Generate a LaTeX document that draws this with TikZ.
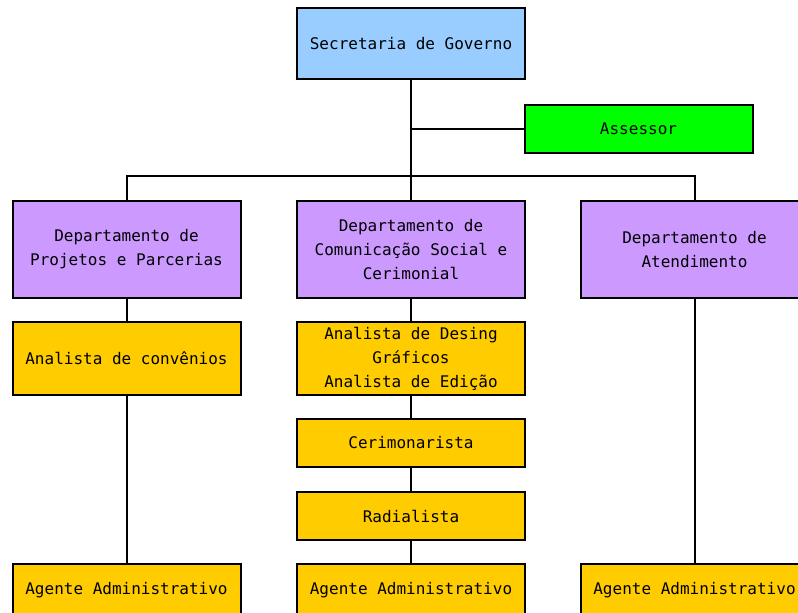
\documentclass[tikz,border=0pt]{standalone}
\usepackage{fontspec}
\newfontfamily\orgfont{DejaVu Sans Mono}
\definecolor{secblue}{RGB}{153,204,255}
\definecolor{asrgreen}{RGB}{0,255,0}
\definecolor{deppurple}{RGB}{204,153,255}
\definecolor{staffgold}{RGB}{255,204,0}

\tikzset{every picture/.style={line width=1.5pt}}
\tikzset{
  orgbox/.style={draw, line width=1.5pt, minimum width=171pt, inner sep=0pt,
    align=center, font=\orgfont\fontsize{12}{18}\selectfont},
  secbox/.style={orgbox, fill=secblue, minimum height=53.25pt},
  asrbox/.style={orgbox, fill=asrgreen, minimum height=36pt},
  depbox/.style={orgbox, fill=deppurple, minimum height=72.75pt},
  tallbox/.style={orgbox, fill=staffgold, minimum height=54.75pt},
  flatbox/.style={orgbox, fill=staffgold, minimum height=36pt},
  lowbox/.style={orgbox, fill=staffgold, minimum height=39pt}
}

\begin{document}
\begin{tikzpicture}[x=0.75pt,y=0.75pt,yscale=-1,xscale=1]
\useasboundingbox (0,0) rectangle (798,612);
\clip (0,0) rectangle (798,612);

% Text Node
\node [secbox] (sec) at (411,43.5) {Secretaria de Governo};
% Text Node
\node [asrbox] (asr) at (638.5,129) {Assessor};
% Text Node
\node [depbox] (dpp) at (126.5,249.5) {Departamento de\\Projetos e Parcerias};
% Text Node
\node [depbox] (dcs) at (411,249.5) {Departamento de\\Comunicação Social e\\Cerimonial};
% Text Node
\node [depbox] (dat) at (694.5,249.5) {Departamento de\\Atendimento};
% Text Node
\node [tallbox] (anc) at (126.5,358.5) {Analista de convênios};
% Text Node
\node [tallbox] (ads) at (411,358.5) {Analista de Desing\\Gráficos\\Analista de Edição};
% Text Node
\node [flatbox] (cer) at (411,443) {Cerimonarista};
% Text Node
\node [flatbox] (rad) at (411,516) {Radialista};
% Text Node
\node [lowbox] (ag1) at (126.5,590) {Agente Administrativo};
% Text Node
\node [lowbox] (ag2) at (411,590) {Agente Administrativo};
% Text Node
\node [lowbox] (ag3) at (694.5,590) {Agente Administrativo};

\coordinate (tap) at (411,129);
\coordinate (bus) at (411,176);

%Straight Lines
\draw (sec.south) -- (bus);
%Straight Lines
\draw (tap) -- (asr.west);
%Straight Lines
\draw (dpp.north) -- (dpp.north |- bus) -- (dat.north |- bus) -- (dat.north);
%Straight Lines
\draw (bus) -- (dcs.north);
%Straight Lines
\draw (dpp.south) -- (anc.north);
\draw (anc.south) -- (ag1.north);
%Straight Lines
\draw (dcs.south) -- (ads.north);
\draw (ads.south) -- (cer.north);
\draw (cer.south) -- (rad.north);
\draw (rad.south) -- (ag2.north);
%Straight Lines
\draw (dat.south) -- (ag3.north);

\end{tikzpicture}
\end{document}
